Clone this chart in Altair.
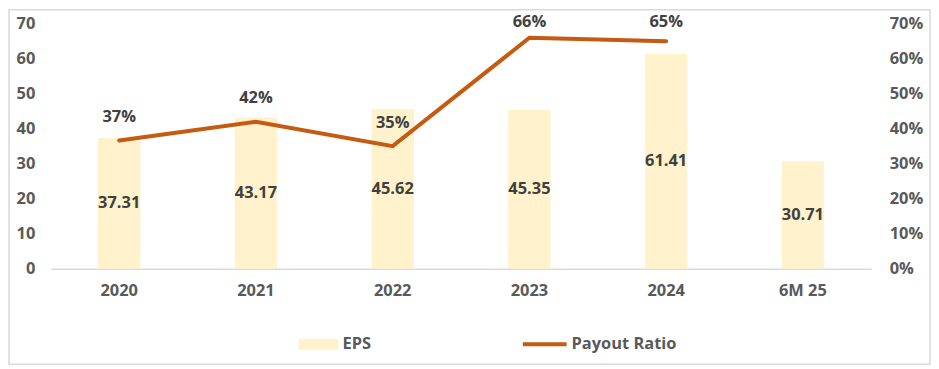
import altair as alt
import pandas as pd

periods = ["2020", "2021", "2022", "2023", "2024", "6M 25"]
eps = [37.31, 43.17, 45.62, 45.35, 61.41, 30.71]
payout_periods = ["2020", "2021", "2022", "2023", "2024"]
payout = [0.366, 0.42, 0.35, 0.66, 0.65]
eps_ticks = [0, 10, 20, 30, 40, 50, 60, 70]
pct_ticks = [0.0, 0.1, 0.2, 0.3, 0.4, 0.5, 0.6, 0.7]

df_eps = pd.DataFrame({"Period": periods, "EPS": eps, "Series": "EPS"})
df_pay = pd.DataFrame({"Period": payout_periods, "Payout": payout, "Series": "Payout Ratio"})

FONT = "Open Sans"
FS = 16.5
BAR = "#FFF2CC"
LINE = "#C55A11"
AXC = "#595959"
LBLC = "#404040"

W, H = 824, 246

xenc = alt.X(
    "Period:N",
    sort=periods,
    scale=alt.Scale(paddingInner=0.69, paddingOuter=0.345),
    axis=alt.Axis(
        title=None, labelAngle=0, domainColor="#D9D9D9", domainWidth=1.5,
        ticks=False, labelPadding=14, labelFont=FONT, labelFontSize=FS,
        labelFontWeight="bold", labelColor=AXC,
    ),
)

left_axis = alt.Axis(
    title=None, orient="left", values=eps_ticks,
    domain=False, ticks=False, grid=False, labelPadding=16, labelOverlap=False,
    labelFont=FONT, labelFontSize=FS, labelFontWeight="bold", labelColor=AXC,
)
right_axis = alt.Axis(
    title=None, orient="right", values=pct_ticks, format=".0%",
    domain=False, ticks=False, grid=False, labelPadding=18, labelOverlap=False,
    labelFont=FONT, labelFontSize=FS, labelFontWeight="bold", labelColor=AXC,
)
eps_scale = alt.Scale(domain=[0, 70])
pct_scale = alt.Scale(domain=[0, 0.7])

bars = alt.Chart(df_eps).mark_bar(color=BAR).encode(
    x=xenc,
    y=alt.Y("EPS:Q", scale=eps_scale, axis=left_axis),
    fill=alt.Fill(
        "Series:N",
        scale=alt.Scale(domain=["EPS"], range=[BAR]),
        legend=alt.Legend(
            title=None, orient="none", legendX=249, legendY=302,
            symbolType="M-1,-0.275H1V0.275H-1Z", symbolSize=1600,
            symbolStrokeWidth=0, labelFont=FONT, labelFontSize=FS,
            labelFontWeight="bold", labelColor=AXC, labelOffset=4, padding=0,
        ),
    ),
)

bar_text = alt.Chart(df_eps).transform_calculate(mid="datum.EPS / 2").mark_text(
    font=FONT, fontSize=FS, fontWeight="bold", color=LBLC, baseline="middle"
).encode(
    x=alt.X("Period:N", sort=periods),
    y=alt.Y("mid:Q", scale=eps_scale, axis=left_axis),
    text=alt.Text("EPS:Q", format=".2f"),
)

line = alt.Chart(df_pay).mark_line(strokeWidth=4, strokeCap="round").encode(
    x=alt.X("Period:N", sort=periods),
    y=alt.Y("Payout:Q", scale=pct_scale, axis=right_axis),
    stroke=alt.Stroke(
        "Series:N",
        scale=alt.Scale(domain=["Payout Ratio"], range=[LINE]),
        legend=alt.Legend(
            title=None, orient="none", legendX=472, legendY=298,
            symbolType="M-1,0H1", symbolSize=1936, symbolStrokeWidth=4,
            labelFont=FONT, labelFontSize=FS, labelFontWeight="bold",
            labelColor=AXC, labelOffset=3, padding=0,
        ),
    ),
)

line_text = alt.Chart(df_pay).transform_calculate(
    ly="min(datum.Payout + 0.067, 0.705)"
).mark_text(
    font=FONT, fontSize=FS, fontWeight="bold", color=LBLC, baseline="middle"
).encode(
    x=alt.X("Period:N", sort=periods),
    y=alt.Y("ly:Q", scale=pct_scale, axis=right_axis),
    text=alt.Text("Payout:Q", format=".0%"),
)

border = alt.Chart(pd.DataFrame({"a": [0]})).mark_rect(
    fill=None, stroke="#D9D9D9", strokeWidth=1.5
).encode(
    x=alt.value(-42), x2=alt.value(883), y=alt.value(-14), y2=alt.value(342)
)

chart = alt.layer(
    border,
    alt.layer(bars, bar_text),
    alt.layer(line, line_text),
).resolve_scale(y="independent", fill="independent", stroke="independent").properties(
    width=W, height=H,
    autosize=alt.AutoSizeParams(type="none"),
    padding={"left": 43, "top": 15, "right": 60, "bottom": 98},
).configure_view(stroke=None)

chart.save("out.html", embed_options={"renderer": "svg", "actions": False})
